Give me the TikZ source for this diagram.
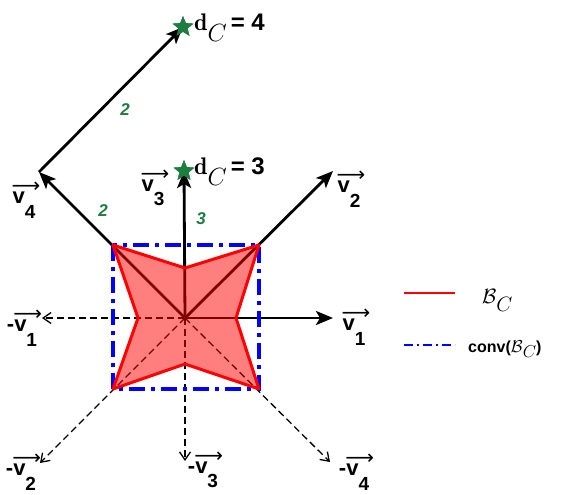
\documentclass[tikz,border=0pt]{standalone}
\usepackage{amsmath,amssymb}
\usepackage{fontspec}
\setsansfont{Liberation Sans}
\newfontfamily\arrowfont{DejaVu Sans}
\usepackage{tikz}
\usetikzlibrary{arrows.meta,shapes.geometric}

\definecolor{numgreen}{RGB}{30,125,65}
\newcommand{\vl}[1]{\rlap{\kern-1pt\raisebox{11pt}{\arrowfont\mdseries\fontsize{20}{20}\selectfont ⟶}}v\raisebox{-0.66em}{\fontsize{19}{19}\selectfont #1}}

\begin{document}
\begin{tikzpicture}[x=1pt, y=-1pt, >={Stealth[length=17pt,width=14pt,inset=4pt]},
vlabel/.style={font=\fontsize{22}{24}\sffamily\bfseries, inner sep=0pt},
num/.style={font=\fontsize{17}{19}\sffamily\bfseries\itshape, text=numgreen, inner sep=0pt},
vec/.style={line width=2.8pt, ->},
negvec/.style={line width=1.3pt, dash pattern=on 7pt off 4pt, -{Straight Barb[length=8pt,width=11pt]}},
goal/.style={star, star points=5, star point ratio=2.3, fill=numgreen, inner sep=0pt, minimum size=22pt}]
\useasboundingbox (0,0) rectangle (581,495);

\coordinate (O) at (185,318);
\coordinate (ul) at (113,245);
\coordinate (ur) at (259,245);
\coordinate (lr) at (259,389);
\coordinate (ll) at (113,389);

% opposite directions
\coordinate (n1) at (42,318);
\coordinate (n2) at (40,463);
\coordinate (n3) at (185,461);
\coordinate (n4) at (330,462);
\draw[negvec] (O) -- (n1);
\draw[negvec] (O) -- (n2);
\draw[negvec] (O) -- (n3);
\draw[negvec] (O) -- (n4);

% directions
\coordinate (p1) at (333,318);
\coordinate (p2) at (333,171);
\coordinate (p4) at (39,172);
\node[goal] (d3) at (184,171) {};
\node[goal] (d4) at (183,27) {};
\draw[vec] (O) -- (p1);
\draw[vec] (O) -- (p2);
\draw[vec] (O) -- (d3.center);
\draw[vec] (O) -- (p4);
\draw[vec] (p4) -- (d4.center);
\node[goal] at (d3) {};
\node[goal] at (d4) {};

% the set and its hull
\fill[red, fill opacity=0.5] (ul) -- (185,268) -- (ur) -- (236,318) -- (lr) -- (185,364) -- (ll) -- (138,318) -- cycle;
\draw[blue, line width=3.6pt, dash pattern=on 16pt off 6pt on 4pt off 6pt] (ul) rectangle (lr);
\draw[red, line width=3pt, line join=round] (ul) -- (185,268) -- (ur) -- (236,318) -- (lr) -- (185,364) -- (ll) -- (138,318) -- cycle;

\node[vlabel] (lv1) at (354,327) {\vl{1}};
\node[vlabel] (lv2) at (349,189) {\vl{2}};
\node[vlabel] (lv3) at (153,188) {\vl{3}};
\node[vlabel] (lv4) at (24,200) {\vl{4}};
\node[vlabel] (ln1) at (22,328) {-\vl{1}};
\node[vlabel] (ln2) at (21,472) {-\vl{2}};
\node[vlabel] (ln3) at (203,470) {-\vl{3}};
\node[vlabel] (ln4) at (354,472) {-\vl{4}};

\node[anchor=west, inner sep=0pt, font=\fontsize{24}{26}\selectfont] (t3) at (194,172) {$\mathbf{d}$\raisebox{-0.45em}{$C$}\,\textsf{\textbf{= 3}}};
\node[anchor=west, inner sep=0pt, font=\fontsize{24}{26}\selectfont] (t4) at (194,28) {$\mathbf{d}$\raisebox{-0.45em}{$C$}\,\textsf{\textbf{= 4}}};

\node[num] at (125,110) {2};
\node[num] at (103,211) {2};
\node[num] at (201,219) {3};

% legend
\coordinate (r1) at (404,293);
\coordinate (r2) at (455,293);
\coordinate (b1) at (404,345);
\coordinate (b2) at (455,345);
\draw[red, line width=1.8pt] (r1) -- (r2);
\draw[blue, line width=2pt, dash pattern=on 9pt off 4pt on 2pt off 4pt] (b1) -- (b2);
\node[anchor=west, inner sep=0pt, font=\fontsize{20}{22}\selectfont] (lb) at (482,300) {$\mathcal{B}$\raisebox{-0.4em}{$C$}};
\node[anchor=west, inner sep=0pt, font=\fontsize{16}{18}\sffamily\bfseries] (lc) at (468,349) {conv($\mathcal{B}$\raisebox{-0.3em}{$C$})};
\end{tikzpicture}
\end{document}
